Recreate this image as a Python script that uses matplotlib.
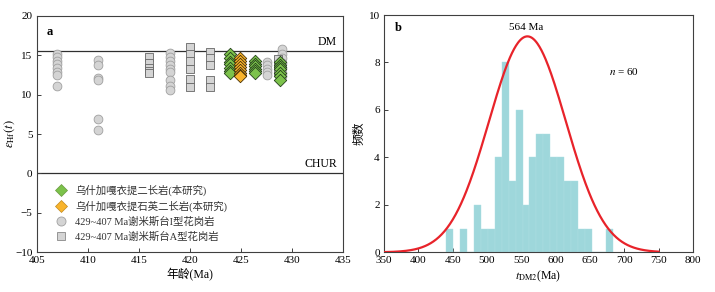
import numpy as np
import matplotlib
matplotlib.use("Agg")
import matplotlib.pyplot as plt
from matplotlib.lines import Line2D

plt.rcParams['font.family'] = ['Liberation Serif', 'Noto Sans CJK SC']
plt.rcParams['mathtext.fontset'] = 'stix'
plt.rcParams['font.size'] = 7.5

# --- panel a: eHf(t) vs age ---
circle_ages = [407, 411, 418, 427.5, 429]
circle_eps = [
    [15.2, 14.8, 14.3, 13.9, 13.4, 12.9, 12.5, 11.1],
    [14.4, 13.7, 12.1, 11.8, 6.9, 5.5],
    [15.3, 14.8, 14.2, 13.8, 13.3, 12.9, 11.8, 11.1, 10.6],
    [14.1, 13.7, 13.3, 12.9, 12.5],
    [15.8, 15.2, 14.6, 14.0, 13.4, 12.8, 12.4],
]
square_ages = [416, 420, 422, 428.6]
square_eps = [
    [14.8, 14.0, 13.4, 13.0, 12.7],
    [16.1, 15.2, 14.3, 13.2, 12.0, 11.0],
    [15.4, 14.6, 13.8, 11.8, 11.0],
    [14.5, 13.8, 13.0],
]
green_ages = [423.9, 426.4, 428.8]
green_eps = [
    [15.1, 14.6, 14.1, 13.9, 13.4, 13.0, 12.7],
    [14.2, 13.9, 13.6, 13.3, 13.0, 12.8],
    [14.1, 13.8, 13.5, 13.2, 12.8, 12.4, 11.9],
]
orange_ages = [424.9]
orange_eps = [
    [14.7, 14.3, 13.9, 13.5, 13.1, 12.8, 12.5, 12.3],
]
dm_value = 15.5
chur_value = 0.0

legend_labels = ["乌什加嘎衣提二长岩(本研究)", "乌什加嘎衣提石英二长岩(本研究)",
                 "429~407 Ma谢米斯台I型花岗岩", "429~407 Ma谢米斯台A型花岗岩"]

# --- panel b: tDM2 histogram ---
hist_start = 440.0
hist_width = 10.17
hist_counts = [1, 0, 1, 0, 2, 1, 1, 4, 8, 3, 6, 2, 4, 5, 5, 4, 4, 3, 3, 1, 1, 0, 0, 1]
curve_peak, curve_mu, curve_sigma = 9.1, 559.0, 56.0
curve_range = (350, 750)

GRAY_FACE = '#d4d4d4'
GREEN = '#7cc24b'
ORANGE = '#f9b42c'


def flat(ages, eps):
    xs, ys = [], []
    for a, vals in zip(ages, eps):
        xs += [a] * len(vals)
        ys += vals
    return xs, ys


def style_axes(ax):
    for s in ax.spines.values():
        s.set_color('#404040')
        s.set_linewidth(0.8)
    ax.tick_params(direction='in', length=3, width=0.7, color='#404040', labelsize=8, pad=3)


fig = plt.figure(figsize=(7.15, 2.92), dpi=100)
ax1 = fig.add_axes([0.0513, 0.136, 0.4289, 0.810])
ax2 = fig.add_axes([0.537, 0.136, 0.432, 0.8126])

ax1.axhline(dm_value, color='#303030', lw=0.9, zorder=1)
ax1.axhline(chur_value, color='#303030', lw=0.9, zorder=1)

x, y = flat(circle_ages, circle_eps)
ax1.scatter(x, y, marker='o', s=40, facecolor=GRAY_FACE, edgecolor='#a0a0a0', linewidth=0.6, zorder=2)
x, y = flat(square_ages, square_eps)
ax1.scatter(x, y, marker='s', s=38, facecolor=GRAY_FACE, edgecolor='#666666', linewidth=0.6, zorder=3)
x, y = flat(green_ages, green_eps)
ax1.scatter(x, y, marker='D', s=40, facecolor=GREEN, edgecolor='#24401a', linewidth=0.6, zorder=4)
x, y = flat(orange_ages, orange_eps)
ax1.scatter(x, y, marker='D', s=40, facecolor=ORANGE, edgecolor='#4a3208', linewidth=0.6, zorder=5)

ax1.set_xlim(405, 435)
ax1.set_ylim(-10, 20)
ax1.set_xticks(np.arange(405, 436, 5))
ax1.set_yticks(np.arange(-10, 21, 5))
ax1.set_yticklabels(['−10', '−5', '0', '5', '10', '15', '20'])
ax1.set_xlabel('年龄(Ma)', fontsize=8.5, labelpad=2)
ax1.set_ylabel(r'$\varepsilon_{\rm Hf}(t)$', fontsize=9)
ax1.yaxis.set_label_coords(-0.064, 0.5)
style_axes(ax1)

ax1.text(434.4, dm_value + 0.4, 'DM', ha='right', va='bottom', fontsize=8.5)
ax1.text(434.4, chur_value + 0.4, 'CHUR', ha='right', va='bottom', fontsize=8.5)
ax1.text(406.0, 18.0, 'a', fontweight='bold', fontsize=9, va='center')

handles = [
    Line2D([], [], ls='', marker='D', ms=6, mfc=GREEN, mec='#6a9a40', mew=0.5),
    Line2D([], [], ls='', marker='D', ms=6, mfc=ORANGE, mec='#c08a20', mew=0.5),
    Line2D([], [], ls='', marker='o', ms=6.5, mfc=GRAY_FACE, mec='#a0a0a0', mew=0.6),
    Line2D([], [], ls='', marker='s', ms=6, mfc=GRAY_FACE, mec='#888888', mew=0.6),
]
ax1.legend(handles, legend_labels, loc='upper left', bbox_to_anchor=(0.05, 0.305),
           frameon=False, fontsize=7.5, handlelength=1.0, handletextpad=0.8,
           labelspacing=0.45, borderaxespad=0, labelcolor='#333333')

# panel b
lefts = hist_start + hist_width * np.arange(len(hist_counts))
ax2.bar(lefts, hist_counts, width=hist_width, align='edge', color='#9ed7db',
        edgecolor='#ade0e3', linewidth=0.3, zorder=2)
xc = np.linspace(curve_range[0], curve_range[1], 400)
yc = curve_peak * np.exp(-(xc - curve_mu) ** 2 / (2 * curve_sigma ** 2))
ax2.plot(xc, yc, color='#e8232a', lw=1.6, zorder=3)

ax2.set_xlim(350, 800)
ax2.set_ylim(0, 10)
ax2.set_xticks(np.arange(350, 801, 50))
ax2.set_yticks(np.arange(0, 11, 2))
ax2.set_xlabel(r'$t_{\rm DM2}$(Ma)', fontsize=8.5, labelpad=2)
ax2.set_ylabel('频数', fontsize=8.5, family=['Noto Sans CJK SC'])
ax2.yaxis.set_label_coords(-0.06, 0.5)
style_axes(ax2)

ax2.text(557, 9.3, '564 Ma', ha='center', va='bottom', fontsize=8)
ax2.text(700, 7.6, r'$n$ = 60', ha='center', va='center', fontsize=8)
ax2.text(366, 9.45, 'b', fontweight='bold', fontsize=9, va='center')

fig.savefig('out.png', dpi=100)
